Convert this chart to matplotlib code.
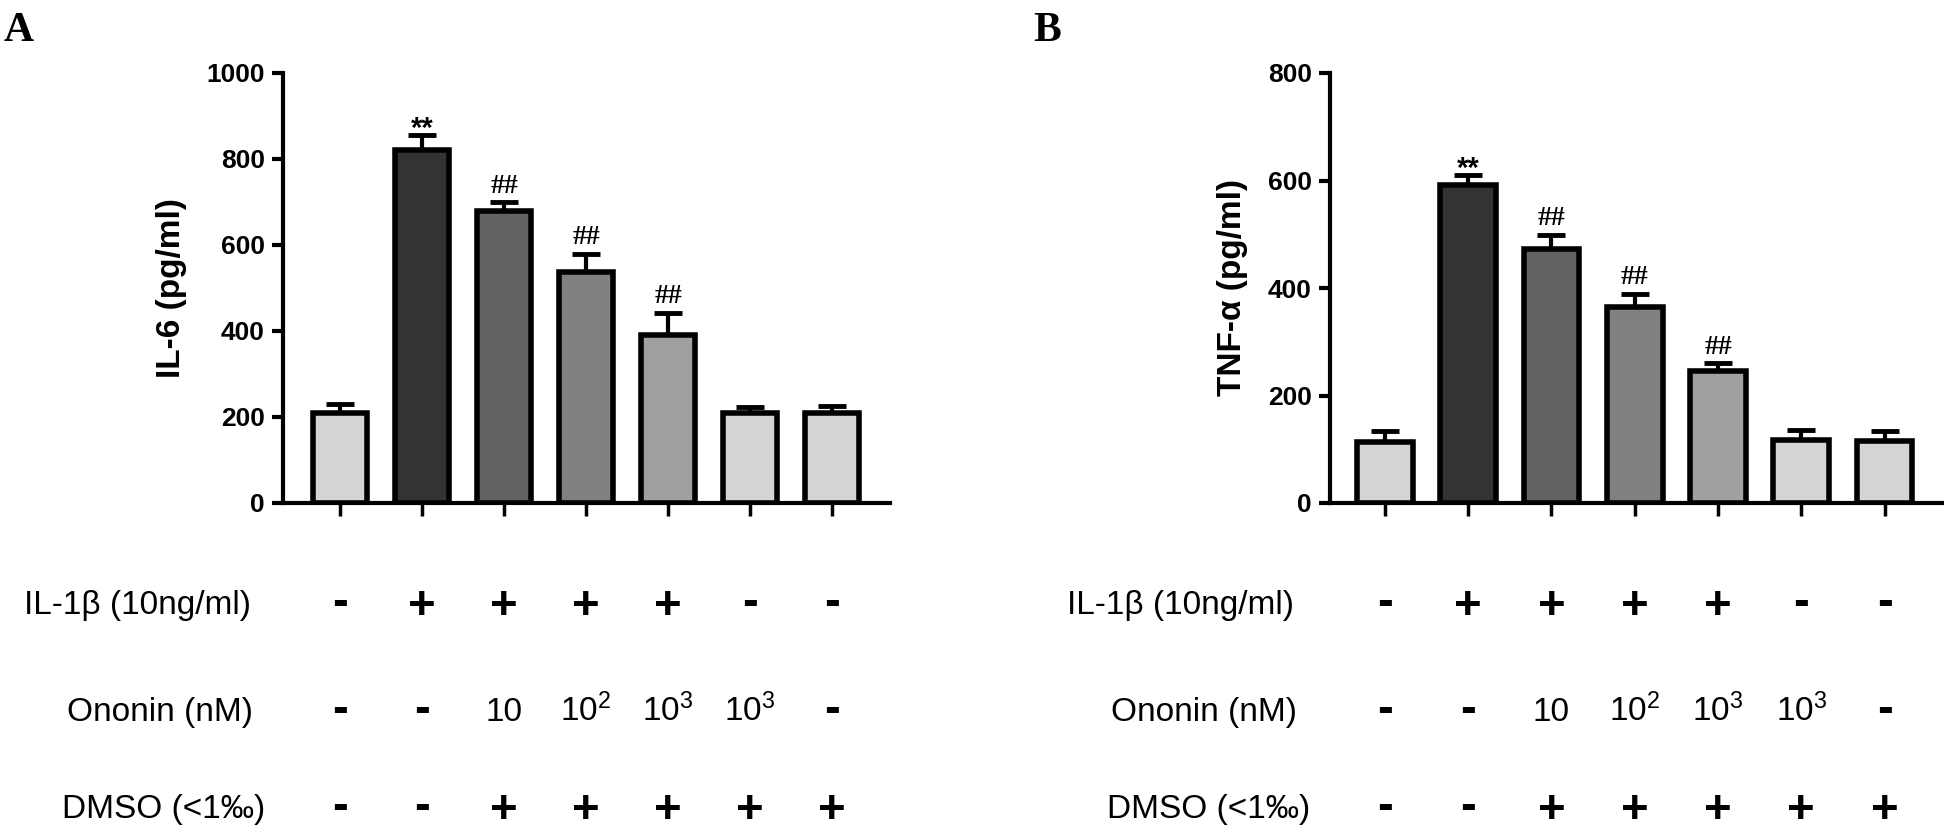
import numpy as np
import matplotlib
matplotlib.use('Agg')
import matplotlib.pyplot as plt
from matplotlib.transforms import blended_transform_factory

plt.rcParams['font.family'] = ['Liberation Sans', 'DejaVu Sans']
plt.rcParams['mathtext.default'] = 'regular'

# treatment table
il1b = ['-', '+', '+', '+', '+', '-', '-']
ononin = ['-', '-', '10', '$10^2$', '$10^3$', '$10^3$', '-']
dmso = ['-', '-', '+', '+', '+', '+', '+']
row_names = ['IL-1β (10ng/ml)', 'Ononin (nM)', 'DMSO (<1‰)']

# measured values (mean, upper SD)
il6_mean = [209, 820, 680, 538, 390, 209, 209]
il6_err = [22, 35, 19, 42, 52, 14, 16]
tnf_mean = [113, 591, 472, 364, 246, 117, 116]
tnf_err = [21, 19, 27, 25, 14, 19, 18]

marks = ['', '**', '##', '##', '##', '', '']
bar_colors = ['#d4d4d4', '#333333', '#636363', '#808080', '#a0a0a0', '#d4d4d4', '#d4d4d4']

W, H = 1944, 834
fig = plt.figure(figsize=(W / 100, H / 100), dpi=100)


def px(x, y):
    # pixel (from top-left) -> figure fraction
    return x / W, 1 - y / H


def draw_panel(left, right, xlim, means, errs, ymax, ylabel, letter, letter_x, label_offsets):
    x0, y0 = px(left, 503)
    x1, y1 = px(right, 73)
    ax = fig.add_axes([x0, y0, x1 - x0, y1 - y0])
    x = np.arange(len(means))
    ax.bar(x, means, width=0.67, color=bar_colors, edgecolor='black', linewidth=4, zorder=3)
    ax.errorbar(x, means, yerr=[np.zeros(len(errs)), errs], fmt='none', ecolor='black',
                elinewidth=3, capsize=10, capthick=3.5, zorder=2)
    for i, m in enumerate(marks):
        if not m:
            continue
        if m == '**':
            ax.annotate(m, xy=(i, means[i] + errs[i]), xytext=(0, -1), textcoords='offset points',
                        ha='center', va='baseline', fontsize=21, fontweight='bold')
        else:
            ax.annotate(m, xy=(i, means[i] + errs[i]), xytext=(0, 7), textcoords='offset points',
                        ha='center', va='baseline', fontsize=20, fontweight='bold',
                        family='Liberation Serif')
    ax.set_xlim(*xlim)
    ax.set_ylim(0, ymax)
    ax.set_yticks(np.arange(0, ymax + 1, 200))
    ax.set_xticks(x)
    ax.set_xticklabels([])
    for s in ['top', 'right']:
        ax.spines[s].set_visible(False)
    for s in ['left', 'bottom']:
        ax.spines[s].set_linewidth(3)
    ax.tick_params(axis='y', length=8, width=3, labelsize=19, pad=5)
    ax.tick_params(axis='x', length=9, width=2.5)
    for t in ax.get_yticklabels():
        t.set_fontweight('bold')
    ax.set_ylabel(ylabel, fontsize=24, fontweight='bold', labelpad=14)

    fig.text(letter_x / W, 1 - 41 / H, letter, fontsize=30, fontweight='bold',
             family='Liberation Serif', ha='left', va='baseline')

    # treatment rows under the bars
    tr = blended_transform_factory(ax.transData, fig.transFigure)
    centers = [602, 709, 806]
    sym_fs = 34
    sym_px = sym_fs * 100 / 72
    num_fs = 24
    num_px = num_fs * 100 / 72
    for r, row in enumerate([il1b, ononin, dmso]):
        c = centers[r]
        for i, s in enumerate(row):
            if s == '+':
                fig.text(i, 1 - (c + 0.35 * sym_px) / H, s, transform=tr, ha='center',
                         va='baseline', fontsize=sym_fs, fontweight='bold')
            elif s == '-':
                fig.text(i, 1 - (c + 0.28 * sym_px) / H, s, transform=tr, ha='center',
                         va='baseline', fontsize=sym_fs, fontweight='bold')
            else:
                fig.text(i, 1 - (c + 0.36 * num_px) / H, s, transform=tr, ha='center',
                         va='baseline', fontsize=num_fs)
        fig.text((left + label_offsets[r]) / W, 1 - (c + 0.36 * num_px) / H, row_names[r],
                 ha='right', va='baseline', fontsize=num_fs)
    return ax


draw_panel(283, 890, (-0.695, 6.707), il6_mean, il6_err, 1000, 'IL-6 (pg/ml)', 'A', 4,
           [-32, -30, -18])
draw_panel(1330, 1942, (-0.66, 6.69), tnf_mean, tnf_err, 800, 'TNF-α (pg/ml)', 'B', 1033,
           [-36, -33, -20])

fig.savefig('out.png', dpi=100)
